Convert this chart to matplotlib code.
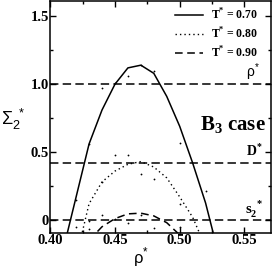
import numpy as np
import matplotlib
matplotlib.use("Agg")
import matplotlib.pyplot as plt
from matplotlib.ticker import MultipleLocator, FuncFormatter

plt.rcParams['mathtext.fontset'] = 'custom'
plt.rcParams['mathtext.rm'] = 'Liberation Serif:bold'
plt.rcParams['mathtext.sf'] = 'Liberation Sans'

# curves (polylines)
rho_70 = [0.41, 0.42, 0.43, 0.44, 0.45, 0.46, 0.47, 0.48, 0.49, 0.50, 0.51, 0.52, 0.53]
sig_70 = [-0.22, 0.17, 0.56, 0.81, 1.00, 1.12, 1.14, 1.08, 0.91, 0.69, 0.42, 0.125, -0.25]
rho_80 = [0.42, 0.43, 0.44, 0.45, 0.46, 0.47, 0.48, 0.49, 0.50, 0.51, 0.52]
sig_80 = [-0.28, 0.12, 0.28, 0.36, 0.41, 0.43, 0.39, 0.31, 0.17, 0.02, -0.20]
rho_90 = [0.43, 0.44, 0.45, 0.46, 0.47, 0.48, 0.49, 0.50]
sig_90 = [-0.15, -0.05, 0.01, 0.045, 0.05, 0.03, -0.02, -0.11]

# simulation points
pts_rho = [0.42, 0.43, 0.44, 0.45, 0.46, 0.47, 0.48, 0.50, 0.52,
           0.42, 0.43, 0.44, 0.45, 0.46, 0.47, 0.48, 0.50,
           0.43, 0.44, 0.45, 0.46, 0.47, 0.48, 0.50]
pts_sig = [0.15, 0.56, 0.97, 1.01, 1.06, 1.14, 1.10, 0.57, 0.21,
           -0.05, -0.07, 0.28, 0.48, 0.48, 0.34, 0.30, 0.12,
           -0.01, 0.04, 0.01, -0.02, 0.04, -0.06, -0.05]

hlines = [1.0, 0.42, 0.0]

fig = plt.figure(figsize=[2.73, 2.73], dpi=100)
ax = fig.add_axes([0.184, 0.148, 0.809, 0.847])

ax.plot(rho_70, sig_70, color='black', lw=1.1, label='T$^{*}$ = 0.70')
ax.plot(rho_80, sig_80, color='black', lw=1.0, linestyle=(0, (1, 2.2)), label='T$^{*}$ = 0.80')
ax.plot(rho_90, sig_90, color='black', lw=1.1, linestyle=(0, (5, 3)), label='T$^{*}$ = 0.90')
ax.plot(pts_rho, pts_sig, 'o', color='black', ms=1.3, mec='none')

for h in hlines:
    ax.axhline(h, color='black', lw=1.1, linestyle=(0, (5.5, 2.8)))

ax.set_xlim(0.40, 0.5706)
ax.set_ylim(-0.093, 1.61)

ax.xaxis.set_major_locator(MultipleLocator(0.05))
ax.xaxis.set_minor_locator(MultipleLocator(0.025))
ax.yaxis.set_major_locator(MultipleLocator(0.5))
ax.yaxis.set_minor_locator(MultipleLocator(0.25))
ax.xaxis.set_major_formatter(FuncFormatter(lambda v, p: '%.2f' % v))
ax.yaxis.set_major_formatter(FuncFormatter(lambda v, p: '0' if abs(v) < 1e-9 else '%.1f' % v))
ax.tick_params(which='both', direction='in', top=True, right=True, width=1)
ax.tick_params(which='major', length=4)
ax.tick_params(axis='x', which='major', pad=1)
ax.tick_params(axis='y', which='major', pad=1)
ax.tick_params(which='minor', length=2.5)
for lab in ax.get_xticklabels() + ax.get_yticklabels():
    lab.set_fontfamily('Liberation Serif')
    lab.set_fontweight('bold')
    lab.set_fontsize(10.5)
for s in ax.spines.values():
    s.set_linewidth(1.1)

ax.set_xlabel(r'ρ$^{\mathsf{*}}$', fontfamily='Liberation Sans', fontsize=12)
ax.xaxis.set_label_coords(0.41, -0.055, transform=ax.transAxes)
ax.xaxis.label.set_va('top')
ax.set_ylabel(r'Σ$_{\mathsf{2}}^{\mathsf{\ *}}$', fontfamily='Liberation Sans', fontsize=13,
              rotation=0, va='center')
ax.yaxis.set_label_coords(-0.167, 0.49)

ax.text(0.5567, 1.055, r'ρ$^{\mathsf{*}}$', fontfamily='Liberation Sans', fontsize=10, ha='center')
ax.text(0.5668, 0.66, r'B$_{3}$ case', fontfamily='Liberation Serif', fontweight='bold',
        fontsize=15, ha='right')
ax.text(0.5575, 0.47, r'D$^{*}$', fontfamily='Liberation Serif', fontweight='bold',
        fontsize=10, ha='center')
ax.text(0.5575, 0.045, r's$_{2}^{\ *}$', fontfamily='Liberation Serif', fontweight='bold',
        fontsize=10.5, ha='center')

leg = ax.legend(loc='upper right', bbox_to_anchor=(0.94, 0.975), frameon=False,
                handlelength=2.4, handletextpad=0.65, labelspacing=0.3,
                borderaxespad=0, borderpad=0,
                prop={'family': 'Liberation Serif', 'weight': 'bold', 'size': 8.5})

fig.savefig('out.png', dpi=100)
